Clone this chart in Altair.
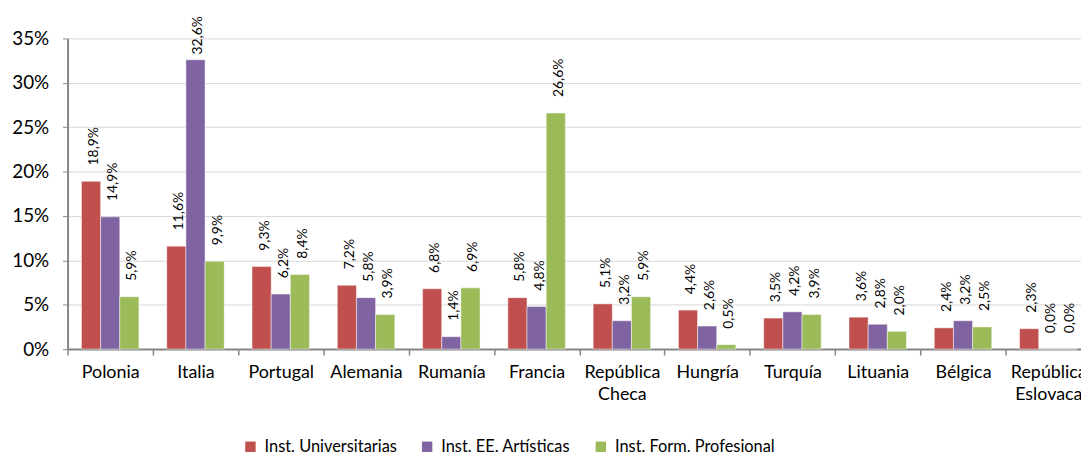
import altair as alt
import pandas as pd

countries = ["Polonia", "Italia", "Portugal", "Alemania", "Rumanía", "Francia",
             "República Checa", "Hungría", "Turquía", "Lituania", "Bélgica",
             "República Eslovaca"]
series = ["Inst. Universitarias", "Inst. EE. Artísticas", "Inst. Form. Profesional"]
univ = [18.9, 11.6, 9.3, 7.2, 6.8, 5.8, 5.1, 4.4, 3.5, 3.6, 2.4, 2.3]
artes = [14.9, 32.6, 6.2, 5.8, 1.4, 4.8, 3.2, 2.6, 4.2, 2.8, 3.2, 0.0]
fp = [5.9, 9.9, 8.4, 3.9, 6.9, 26.6, 5.9, 0.5, 3.9, 2.0, 2.5, 0.0]
colors = ["#C0504D", "#8064A2", "#9BBB59"]

rows = []
for s, vals in zip(series, [univ, artes, fp]):
    for c, v in zip(countries, vals):
        rows.append({"pais": c, "serie": s, "valor": v / 100.0,
                     "etiqueta": f"{v:.1f}%".replace(".", ",")})
df = pd.DataFrame(rows)

FONT = "Lato"

x = alt.X("pais:N", sort=countries, title=None,
          scale=alt.Scale(range=[0, 1031], paddingInner=0, paddingOuter=0),
          axis=alt.Axis(labelAngle=0, tickBand="extent", labelFontSize=18,
                        labelFont=FONT, labelColor="#000000", tickSize=6,
                        tickColor="#868686", domainColor="#868686",
                        domainWidth=2, tickWidth=1.5, labelPadding=9,
                        labelExpr="split(datum.label, ' ')", labelLineHeight=22,
                        grid=False))
xo = alt.XOffset("serie:N", sort=series,
                 scale=alt.Scale(paddingOuter=0.725, paddingInner=0))
y = alt.Y("valor:Q", title=None,
          scale=alt.Scale(domain=[0, 0.35], nice=False),
          axis=alt.Axis(format=".0%", values=[0, 0.05, 0.1, 0.15, 0.2, 0.25, 0.3, 0.35],
                        labelFontSize=19, labelFont=FONT, labelColor="#000000",
                        tickSize=5, tickColor="#868686", domainColor="#868686",
                        domainWidth=2, labelPadding=14, gridColor="#D9D9D9",
                        gridWidth=1))
color = alt.Color("serie:N", sort=series,
                  scale=alt.Scale(domain=series, range=colors),
                  legend=alt.Legend(orient="none", legendX=176, legendY=403,
                                    direction="horizontal", title=None,
                                    symbolType="square", symbolSize=110,
                                    symbolStrokeWidth=0, labelFontSize=16.5,
                                    labelFont=FONT, labelColor="#000000",
                                    labelLimit=400,
                                    columnPadding=22, padding=0, labelOffset=6))

bars = alt.Chart(df).mark_bar(stroke="white", strokeWidth=0.8, strokeOpacity=0.6).encode(
    x=x, xOffset=xo, y=y, color=color)

# labels kept inside the chart area, as the original does for the tallest bar
labels = alt.Chart(df).transform_calculate(
    pos="min(datum.valor, 0.314)"
).mark_text(angle=270, align="left", baseline="middle",
            dx=16, dy=3, fontSize=14, font=FONT, color="#000000").encode(
    x=alt.X("pais:N", sort=countries), xOffset=alt.XOffset("serie:N", sort=series),
    y=alt.Y("pos:Q"), text="etiqueta:N")

chart = (bars + labels).properties(
    width=1021, height=313,
    padding={"left": 60, "top": 29, "right": 0, "bottom": 104},
    autosize=alt.AutoSizeParams(type="none"),
).configure_view(stroke=None)

chart.save("out.html", embed_options={"renderer": "svg", "actions": False})
